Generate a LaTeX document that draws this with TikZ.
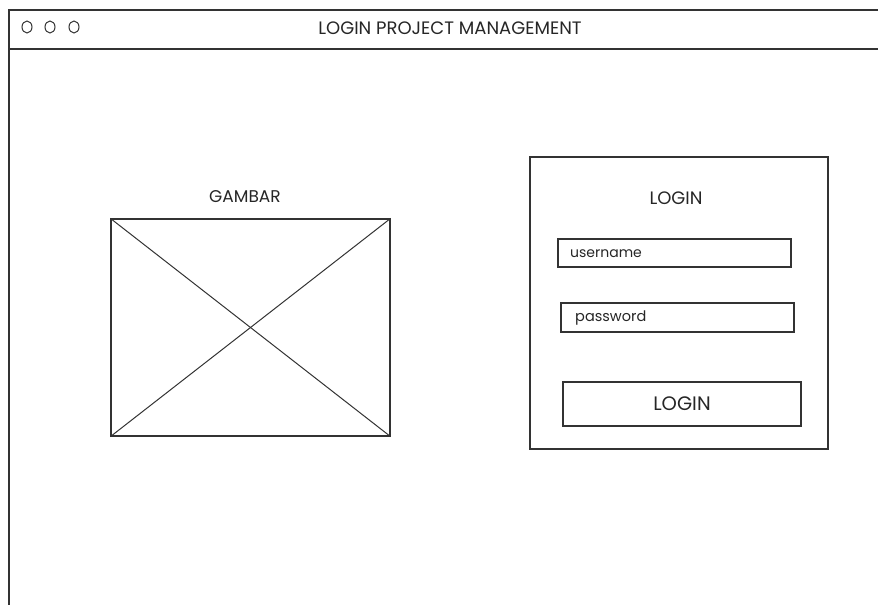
\documentclass[tikz,border=0pt]{standalone}
\usepackage{fontspec}
\setmainfont{Poppins}

\tikzset{
  sketch/.style={draw=black!80, line width=1.3pt},
  label/.style={text=black!85, inner sep=0pt},
  field/.style={sketch, minimum width=233pt, minimum height=28pt, inner sep=0pt},
  dot/.style={sketch, line width=1pt, ellipse, minimum width=10pt, minimum height=12pt, inner sep=0pt}
}
\usetikzlibrary{shapes.geometric}

\begin{document}
\begin{tikzpicture}[x=1pt, y=-1pt]

  \useasboundingbox (0,0) rectangle (878,605);

  % Window frame and title bar
  \coordinate (W0) at (878,10);
  \coordinate (W1) at (9,10);
  \coordinate (W2) at (9,605);
  \coordinate (W3) at (9,49);
  \coordinate (W4) at (878,49);
  \draw [sketch] (W0) -- (W1) -- (W2);
  \draw [sketch] (W3) -- (W4);

  \foreach \i/\x in {1/27,2/50,3/74}
    \node [dot] (dot\i) at (\x,27) {};
  \node [label, font=\fontsize{18}{18}\selectfont] (title) at (450,28) {LOGIN PROJECT MANAGEMENT};

  % Picture placeholder
  \node [sketch, minimum width=279pt, minimum height=217pt] (img) at (250.5,327.5) {};
  \draw [sketch, line width=1pt] (img.north west) -- (img.south east);
  \draw [sketch, line width=1pt] (img.south west) -- (img.north east);
  \node [label, font=\fontsize{17}{17}\selectfont] (gambar) at (245,197) {GAMBAR};

  % Login form
  \node [sketch, minimum width=298pt, minimum height=292pt] (panel) at (679,303) {};
  \node [label, font=\fontsize{18}{18}\selectfont] (head) at (676,198) {LOGIN};
  \node [field] (user) at (674.5,253) {};
  \node [label, anchor=west, font=\fontsize{14}{14}\selectfont] (usertxt) at (570,254) {username};
  \node [field, minimum height=29pt] (pass) at (677.5,317.5) {};
  \node [label, anchor=west, font=\fontsize{14.5}{14.5}\selectfont] (passtxt) at (575,318) {password};
  \node [sketch, minimum width=238pt, minimum height=44pt] (button) at (682,404) {};
  \node [label, font=\fontsize{19.5}{19.5}\selectfont] (btntxt) at (button.center) {LOGIN};

\end{tikzpicture}
\end{document}
